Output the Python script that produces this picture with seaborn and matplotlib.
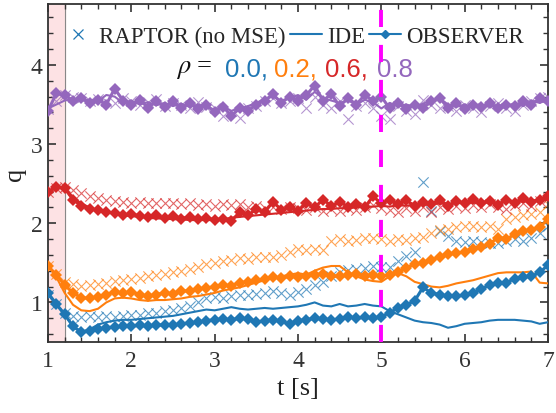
import numpy as np
import pandas as pd
import matplotlib
matplotlib.use("Agg")
import matplotlib.pyplot as plt
import seaborn as sns
from matplotlib.lines import Line2D
from matplotlib.ticker import MultipleLocator

# ================= DATA =================
t = np.linspace(1.0, 7.0, 61)

rho_labels = ["0.0", "0.2", "0.6", "0.8"]
rho_colors = ["#1f77b4", "#ff7f0e", "#d62728", "#9467bd"]

# rho = 0.0
ide_00 = [1.10, 0.97, 0.84, 0.70, 0.63, 0.66, 0.72, 0.75, 0.77, 0.78,
          0.78, 0.79, 0.80, 0.81, 0.82, 0.83, 0.85, 0.87, 0.89, 0.91,
          0.90, 0.92, 0.94, 0.92, 0.91, 0.92, 0.93, 0.92, 0.93, 0.94,
          0.95, 0.97, 1.00, 0.96, 0.95, 0.98, 0.95, 0.96, 0.98, 0.96,
          0.95, 0.89, 0.85, 0.81, 0.77, 0.75, 0.74, 0.72, 0.68, 0.70,
          0.73, 0.74, 0.75, 0.77, 0.78, 0.78, 0.78, 0.77, 0.76, 0.73, 0.75]
obs_00 = [1.12, 0.98, 0.85, 0.70, 0.62, 0.64, 0.66, 0.68, 0.69, 0.70,
          0.70, 0.71, 0.70, 0.71, 0.72, 0.71, 0.73, 0.74, 0.75, 0.77,
          0.78, 0.79, 0.78, 0.80, 0.79, 0.75, 0.77, 0.78, 0.76, 0.73,
          0.77, 0.78, 0.80, 0.79, 0.78, 0.79, 0.82, 0.80, 0.81, 0.80,
          0.82, 0.87, 0.93, 0.97, 1.02, 1.19, 1.12, 1.10, 1.08, 1.08,
          1.09, 1.12, 1.17, 1.22, 1.25, 1.25, 1.30, 1.32, 1.33, 1.38, 1.47]
rap_00 = [1.10, 0.98, 0.86, 0.83, 0.82, 0.83, 0.82, 0.83, 0.82, 0.83,
          0.84, 0.84, 0.86, 0.87, 0.89, 0.90, 0.93, 0.96, 1.00, 1.05,
          1.07, 1.06, 1.08, 1.09, 1.10, 1.11, 1.12, 1.14, 1.12, 1.09,
          1.13, 1.17, 1.22, 1.26, 1.33, 1.38, 1.41, 1.42, 1.44, 1.46,
          1.45, 1.45, 1.52, 1.59, 1.64, 2.52, 2.15, 1.90, 1.84, 1.77,
          1.76, 1.77, 1.76, 1.75, 1.75, 1.78, 1.80, 1.77, 1.82, 1.88, 1.97]

# rho = 0.2
ide_02 = [1.47, 1.32, 1.12, 0.97, 0.90, 0.89, 0.92, 1.00, 1.05, 1.06,
          1.05, 1.03, 1.02, 1.03, 1.03, 1.04, 1.05, 1.07, 1.08, 1.10,
          1.12, 1.15, 1.17, 1.19, 1.22, 1.25, 1.28, 1.31, 1.33, 1.35,
          1.37, 1.35, 1.40, 1.44, 1.46, 1.46, 1.38, 1.33, 1.29, 1.27,
          1.26, 1.33, 1.37, 1.33, 1.26, 1.23, 1.20, 1.19, 1.21, 1.24,
          1.26, 1.28, 1.31, 1.34, 1.37, 1.38, 1.38, 1.38, 1.39, 1.25, 1.24]
obs_02 = [1.46, 1.35, 1.22, 1.12, 1.06, 1.05, 1.07, 1.10, 1.13, 1.12,
          1.13, 1.10, 1.08, 1.10, 1.12, 1.11, 1.14, 1.15, 1.17, 1.18,
          1.20, 1.22, 1.21, 1.25, 1.26, 1.28, 1.29, 1.32, 1.31, 1.33,
          1.32, 1.34, 1.35, 1.36, 1.34, 1.33, 1.35, 1.36, 1.34, 1.35,
          1.33, 1.35, 1.38, 1.44, 1.48, 1.50, 1.54, 1.57, 1.61, 1.62,
          1.64, 1.68, 1.70, 1.74, 1.82, 1.80, 1.86, 1.90, 1.92, 1.95, 2.05]
rap_02 = [1.46, 1.36, 1.26, 1.23, 1.21, 1.22, 1.23, 1.25, 1.27, 1.28,
          1.29, 1.31, 1.33, 1.35, 1.36, 1.38, 1.40, 1.42, 1.45, 1.48,
          1.50, 1.52, 1.53, 1.56, 1.55, 1.57, 1.58, 1.57, 1.60, 1.64,
          1.68, 1.66, 1.67, 1.66, 1.78, 1.80, 1.77, 1.79, 1.81, 1.82,
          1.80, 1.78, 1.80, 1.79, 1.82, 1.83, 1.88, 1.91, 1.93, 1.95,
          1.96, 1.97, 1.95, 1.96, 1.93, 2.06, 2.08, 2.10, 2.12, 2.14, 2.24]

# rho = 0.6
ide_06 = [2.40, 2.44, 2.45, 2.33, 2.25, 2.20, 2.16, 2.14, 2.12, 2.10,
          2.09, 2.08, 2.07, 2.06, 2.06, 2.05, 2.05, 2.04, 2.04, 2.04,
          2.04, 2.05, 2.07, 2.08, 2.09, 2.10, 2.11, 2.12, 2.13, 2.14,
          2.15, 2.16, 2.17, 2.18, 2.18, 2.19, 2.19, 2.20, 2.21, 2.21,
          2.22, 2.21, 2.23, 2.22, 2.24, 2.23, 2.24, 2.25, 2.24, 2.26,
          2.25, 2.26, 2.25, 2.27, 2.26, 2.27, 2.28, 2.27, 2.29, 2.28, 2.30]
obs_06 = [2.40, 2.46, 2.44, 2.30, 2.22, 2.18, 2.17, 2.14, 2.13, 2.10,
          2.12, 2.09, 2.08, 2.10, 2.07, 2.09, 2.06, 2.08, 2.05, 2.07,
          2.04, 2.06, 2.03, 2.14, 2.10, 2.18, 2.14, 2.27, 2.17, 2.20,
          2.16, 2.25, 2.20, 2.30, 2.22, 2.27, 2.21, 2.24, 2.20, 2.34,
          2.25, 2.30, 2.24, 2.29, 2.22, 2.27, 2.24, 2.30, 2.22, 2.28,
          2.25, 2.31, 2.26, 2.28, 2.23, 2.30, 2.26, 2.32, 2.27, 2.30, 2.34]
rap_06 = [2.40, 2.44, 2.46, 2.42, 2.38, 2.35, 2.32, 2.30, 2.28, 2.27,
          2.26, 2.27, 2.25, 2.26, 2.25, 2.26, 2.24, 2.25, 2.23, 2.24,
          2.22, 2.24, 2.23, 2.24, 2.20, 2.22, 2.19, 2.21, 2.18, 2.20,
          2.19, 2.17, 2.20, 2.16, 2.18, 2.15, 2.19, 2.17, 2.20, 2.23,
          2.19, 2.17, 2.14, 2.19, 2.15, 2.20, 2.14, 2.21, 2.18, 2.22,
          2.19, 2.23, 2.20, 2.24, 2.21, 2.18, 2.23, 2.26, 2.22, 2.28, 2.32]

# rho = 0.8
ide_08 = [3.45, 3.50, 3.55, 3.57, 3.55, 3.56, 3.54, 3.62, 3.60, 3.52,
          3.55, 3.50, 3.53, 3.49, 3.52, 3.48, 3.51, 3.47, 3.50, 3.46,
          3.44, 3.47, 3.42, 3.45, 3.48, 3.52, 3.57, 3.60, 3.55, 3.58,
          3.62, 3.56, 3.66, 3.58, 3.55, 3.52, 3.55, 3.50, 3.56, 3.53,
          3.45, 3.52, 3.48, 3.50, 3.47, 3.51, 3.55, 3.58, 3.50, 3.47,
          3.50, 3.46, 3.49, 3.47, 3.50, 3.46, 3.52, 3.48, 3.55, 3.52, 3.56]
obs_08 = [3.42, 3.64, 3.62, 3.55, 3.58, 3.52, 3.56, 3.50, 3.70, 3.55,
          3.50, 3.56, 3.46, 3.54, 3.47, 3.55, 3.45, 3.52, 3.44, 3.50,
          3.40, 3.47, 3.36, 3.45, 3.42, 3.50, 3.55, 3.63, 3.52, 3.60,
          3.55, 3.62, 3.74, 3.55, 3.63, 3.48, 3.58, 3.50, 3.62, 3.55,
          3.60, 3.45, 3.52, 3.44, 3.50, 3.46, 3.54, 3.58, 3.46, 3.52,
          3.44, 3.50, 3.47, 3.52, 3.45, 3.50, 3.48, 3.54, 3.50, 3.58, 3.54]
rap_08 = [3.44, 3.55, 3.62, 3.60, 3.58, 3.55, 3.57, 3.54, 3.52, 3.58,
          3.55, 3.50, 3.53, 3.57, 3.48, 3.52, 3.50, 3.46, 3.53, 3.47,
          3.45, 3.36, 3.42, 3.33, 3.45, 3.48, 3.55, 3.58, 3.52, 3.55,
          3.58, 3.45, 3.60, 3.50, 3.46, 3.55, 3.32, 3.48, 3.52, 3.45,
          3.36, 3.32, 3.48, 3.42, 3.38, 3.56, 3.50, 3.45, 3.48, 3.42,
          3.50, 3.45, 3.40, 3.48, 3.52, 3.45, 3.42, 3.50, 3.55, 3.58, 3.60]

raptor = [rap_00, rap_02, rap_06, rap_08]
ide = [ide_00, ide_02, ide_06, ide_08]
observer = [obs_00, obs_02, obs_06, obs_08]

t_mark = 5.0
t_shade = (1.0, 1.2)

# ================= STYLE =================
sns.set_theme(style="ticks")
plt.rcParams["font.family"] = ["Liberation Serif", "DejaVu Serif"]
plt.rcParams["mathtext.fontset"] = "stix"
plt.rcParams["axes.edgecolor"] = "#333333"
plt.rcParams["axes.linewidth"] = 1.3

fig = plt.figure(figsize=(5.56, 4.14), dpi=100)
ax = fig.add_axes([0.0863, 0.1715, 0.8993, 0.8165])

ax.axvspan(t_shade[0], t_shade[1], color="#fde2e4", zorder=0)
ax.axvline(t_shade[1], color="#888888", lw=0.8, zorder=0.5)

# ================= CURVES =================
for col, rap, idl, obs in zip(rho_colors, raptor, ide, observer):
    sns.scatterplot(x=t, y=rap, ax=ax, marker="x", color=col, s=55,
                    linewidth=0.8, alpha=0.7, legend=False, zorder=2)
    sns.lineplot(x=t, y=idl, ax=ax, color=col, lw=1.5, legend=False,
                 zorder=3)
    sns.lineplot(x=t, y=obs, ax=ax, color=col, lw=2.2, marker="D",
                 markersize=6, markeredgewidth=0, legend=False, zorder=4)

ax.axvline(t_mark, color="#ff00ff", lw=2.8, dashes=(4.4, 4.6), zorder=5)

# ================= AXES =================
ax.set_xlim(1, 7)
ax.set_ylim(0.5, 4.77)
ax.set_xticks([1, 2, 3, 4, 5, 6, 7])
ax.set_yticks([1, 2, 3, 4])
ax.xaxis.set_minor_locator(MultipleLocator(0.2))
ax.yaxis.set_minor_locator(MultipleLocator(0.2))
ax.tick_params(which="both", direction="in", top=True, right=True,
               colors="#333333", labelcolor="#333333")
ax.tick_params(which="major", length=6, width=1.2, labelsize=17)
ax.tick_params(axis="x", which="major", pad=6)
ax.tick_params(axis="y", which="major", pad=4)
ax.tick_params(which="minor", length=3.5, width=1.0)
ax.set_xlabel("t [s]", fontsize=19, color="#222222", labelpad=4)
ax.set_ylabel("q", fontsize=19, color="#222222", labelpad=3)

# ================= LEGEND =================
handles = [
    Line2D([], [], ls="none", marker="x", color=rho_colors[0],
           markersize=7, markeredgewidth=0.9),
    Line2D([], [], color=rho_colors[0], lw=1.5),
    Line2D([], [], color=rho_colors[0], lw=1.5, marker="D", markersize=4.5),
]
ax.legend(handles, ["RAPTOR (no MSE)", "IDE", "OBSERVER"], ncol=3,
          loc="center", bbox_to_anchor=(0.49, 0.903), frameon=False,
          fontsize=16.5, handlelength=1.4, handletextpad=0.2,
          columnspacing=0.2, borderpad=0.1)

ax.text(0.256, 0.808, r"$\rho$ =", transform=ax.transAxes, fontsize=19,
        ha="left", va="center", color="#111111")
rho_x = [0.354, 0.452, 0.555, 0.659]
for i, (lab, col) in enumerate(zip(rho_labels, rho_colors)):
    s = lab + ("," if i < len(rho_labels) - 1 else "")
    ax.text(rho_x[i], 0.808, s, transform=ax.transAxes, fontsize=18.5,
            ha="left", va="center", color=col, family="Liberation Sans")

fig.savefig("out.png", dpi=100)
